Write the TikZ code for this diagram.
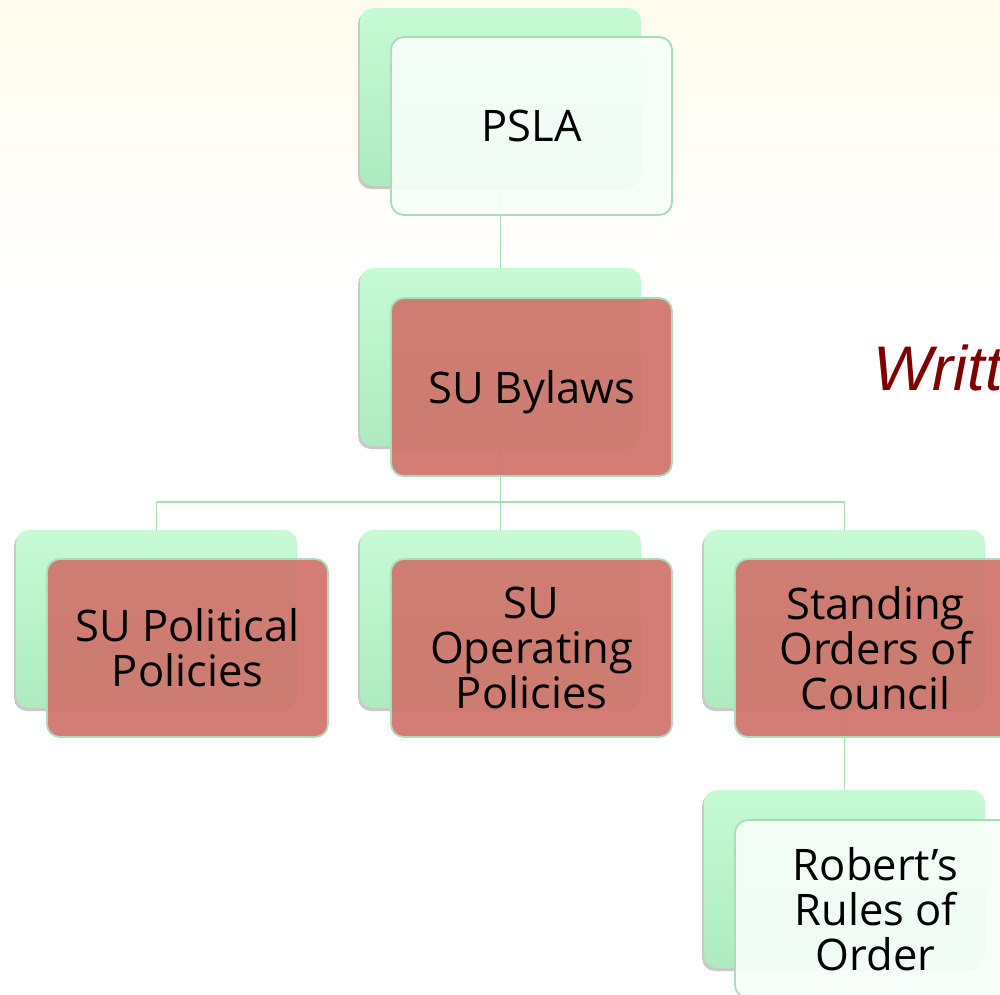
\documentclass[tikz,border=0pt]{standalone}
\usepackage{fontspec}
\setmainfont{Open Sans}
\newfontfamily\writtfont{Liberation Sans}
\usetikzlibrary{shadows}

\definecolor{mintTop}{HTML}{C6FAD4}
\definecolor{mintBot}{HTML}{AEEBC0}
\definecolor{mintLine}{HTML}{A9DDB5}
\definecolor{brick}{HTML}{D0736B}
\definecolor{paleMint}{HTML}{F7FEFA}
\definecolor{cream}{HTML}{FFFCEE}
\definecolor{darkRed}{HTML}{800000}

\begin{document}
\begin{tikzpicture}[x=1pt,y=-1pt,line cap=round,line join=round,
    backbox/.style={rounded corners=13pt, minimum width=281pt, minimum height=178pt, inner sep=0pt,
        top color=mintTop, bottom color=mintBot,
        drop shadow={shadow xshift=-2pt, shadow yshift=-3pt, opacity=0.35, fill=black!60}},
    frontbox/.style={rounded corners=13pt, minimum width=281pt, minimum height=178pt, inner sep=0pt,
        draw=mintLine, line width=1.8pt, fill opacity=0.92, text opacity=1, align=center,
        font=\fontsize{43.5}{45}\selectfont},
    redbox/.style={frontbox, fill=brick},
    palebox/.style={frontbox, fill=paleMint},
    edge/.style={draw=mintLine, line width=1.8pt}]
    \useasboundingbox (0,0) rectangle (1000,994);
    \clip (0,0) rectangle (1000,994);

    % background
    \fill[white] (0,0) rectangle (1000,994);
    \shade[top color=cream, bottom color=white] (0,0) rectangle (1000,300);

    % Back panels
    \draw (500.5,97) node[backbox] (PSLAb) {};
    \draw (500.5,357) node[backbox] (BYLb) {};
    \draw (156.5,619) node[backbox] (POLb) {};
    \draw (500.5,619) node[backbox] (OPEb) {};
    \draw (844.5,619) node[backbox] (STAb) {};
    \draw (844.5,879) node[backbox] (ROBb) {};

    % Edges
    \coordinate (fork) at (500.5,502);
    \foreach \source/\target in {PSLAb.south/BYLb.north, BYLb.south/fork, fork/OPEb.north, STAb.south/ROBb.north} {
            \draw[edge] (\source) -- (\target);
        }
    \foreach \target in {POLb, STAb} {
            \draw[edge] (fork) -| (\target.north);
        }

    % Front panels
    \draw (531.5,126) node[palebox] (PSLA) {PSLA};
    \draw (531.5,387) node[redbox, text depth=0pt] (BYL) {SU Bylaws};
    \draw (187.5,648) node[redbox] (POL) {SU Political\\Policies};
    \draw (531.5,648) node[redbox] (OPE) {SU\\Operating\\Policies};
    \draw (875.5,648) node[redbox] (STA) {Standing\\Orders of\\Council};
    \draw (875.5,909) node[palebox] (ROB) {Robert’s\\Rules of\\Order};

    % side title
    \node[anchor=base west, inner sep=0pt, text=darkRed, font=\writtfont\itshape\fontsize{63}{70}\selectfont] (title) at (873,390) {Writt};
\end{tikzpicture}
\end{document}
